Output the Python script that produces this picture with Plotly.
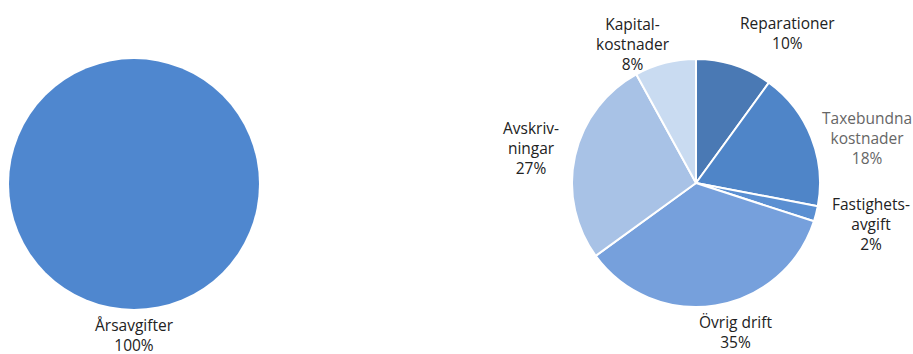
import plotly.graph_objects as go

W, H = 913, 354

# Data
left_labels = ["Årsavgifter"]
left_values = [100]

right_labels = ["Reparationer", "Taxebundna kostnader", "Fastighetsavgift",
                "Övrig drift", "Avskrivningar", "Kapitalkostnader"]
right_values = [10, 18, 2, 35, 27, 8]
right_colors = ["#4a79b4", "#4f85c8", "#5a8fd2", "#76a0dc", "#a8c2e6", "#c9dbf1"]

# Display label texts (with hyphenated line breaks as in the original)
right_label_text = ["Reparationer", "Taxebundna<br>kostnader", "Fastighets-<br>avgift",
                    "Övrig drift", "Avskriv-<br>ningar", "Kapital-<br>kostnader"]


def px_x(x):
    return x / W


def px_y(y):
    return 1 - y / H


fig = go.Figure()

fig.add_trace(go.Pie(
    labels=left_labels, values=left_values,
    marker=dict(colors=["#4f87cf"], line=dict(width=0)),
    textinfo="none", sort=False, direction="clockwise", hoverinfo="label+percent",
    domain=dict(x=[px_x(9), px_x(259)], y=[px_y(309), px_y(59)]),
    showlegend=False,
))

fig.add_trace(go.Pie(
    labels=right_labels, values=right_values,
    marker=dict(colors=right_colors, line=dict(color="white", width=2)),
    textinfo="none", sort=False, direction="clockwise", rotation=0,
    hoverinfo="label+percent",
    domain=dict(x=[px_x(572), px_x(820)], y=[px_y(307), px_y(59)]),
    showlegend=False,
))

# Label positions (pixel centers of each text block)
label_pos = {
    "Årsavgifter": (134, 335),
    "Reparationer": (787, 33),
    "Taxebundna kostnader": (867, 138),
    "Fastighetsavgift": (871, 224),
    "Övrig drift": (735, 332),
    "Avskrivningar": (531, 148),
    "Kapitalkostnader": (633, 44),
}
label_color = {"Taxebundna kostnader": "#666666"}

FONT = dict(family="Open Sans", size=15.5, color="#222222")

annotations = []
total_left = sum(left_values)
for lab, v in zip(left_labels, left_values):
    x, y = label_pos[lab]
    annotations.append(dict(
        x=px_x(x), y=px_y(y), xref="paper", yref="paper",
        text=f"{lab}<br>{round(100 * v / total_left)}%", showarrow=False,
        xanchor="center", yanchor="middle", font=FONT))

total_right = sum(right_values)
for lab, txt, v in zip(right_labels, right_label_text, right_values):
    x, y = label_pos[lab]
    annotations.append(dict(
        x=px_x(x), y=px_y(y), xref="paper", yref="paper",
        text=f"{txt}<br>{round(100 * v / total_right)}%", showarrow=False,
        xanchor="center", yanchor="middle",
        font=dict(FONT, color=label_color.get(lab, "#222222"))))

fig.update_layout(
    width=W, height=H,
    margin=dict(l=0, r=0, t=0, b=0),
    paper_bgcolor="white", plot_bgcolor="white",
    annotations=annotations,
    showlegend=False,
)

fig.write_html(
    "out.html",
    config={"displayModeBar": False},
    post_script="document.body.style.margin='0';document.body.style.overflow='hidden';",
)
